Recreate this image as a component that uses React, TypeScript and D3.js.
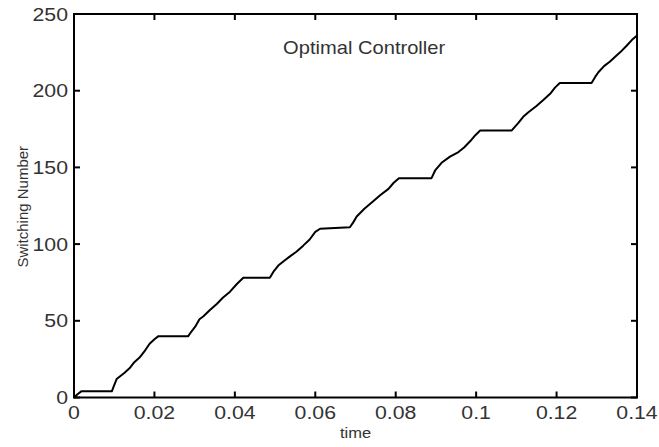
import React from "react";
import * as d3 from "d3";

// Switching count over time for the optimal controller
const times = [
  0, 0.0008, 0.0018, 0.0094, 0.01, 0.0106, 0.0125, 0.0138, 0.015, 0.0163, 0.0175, 0.0188, 0.02, 0.021,
  0.0284, 0.0292, 0.0301, 0.0312, 0.0322, 0.0338, 0.0355, 0.037, 0.0388, 0.0405, 0.0421,
  0.0487, 0.0496, 0.0508, 0.0522, 0.0537, 0.0553, 0.057, 0.0586, 0.06, 0.0612,
  0.0686, 0.0694, 0.0703, 0.0722, 0.0744, 0.0762, 0.0782, 0.0795, 0.0808,
  0.0889, 0.0898, 0.0914, 0.0935, 0.0956, 0.097, 0.0985, 0.0998, 0.101,
  0.1088, 0.1105, 0.1117, 0.113, 0.115, 0.1167, 0.1184, 0.1196, 0.1208,
  0.1287, 0.1296, 0.1304, 0.1318, 0.1333, 0.1345, 0.1358, 0.1373, 0.1387, 0.14,
];
const counts = [
  0, 2, 4, 4, 8, 12, 16, 19, 23, 26, 30, 35, 38, 40,
  40, 43, 46, 51, 53, 57, 61, 65, 69, 74, 78,
  78, 82, 86, 89, 92, 95, 99, 103, 108, 110,
  111, 114, 118, 123, 128, 132, 136, 140, 143,
  143, 148, 153, 157, 160, 163, 167, 171, 174,
  174, 179, 183, 186, 190, 194, 198, 202, 205,
  205, 209, 212, 216, 219, 222, 225, 229, 233, 236,
];
const xTicks = [0, 0.02, 0.04, 0.06, 0.08, 0.1, 0.12, 0.14];
const xTickLabels = ["0", "0.02", "0.04", "0.06", "0.08", "0.1", "0.12", "0.14"];
const yTicks = [0, 50, 100, 150, 200, 250];
const yTickLabels = ["0", "50", "100", "150", "200", "250"];
const title = "Optimal Controller";
const xLabel = "time";
const yLabel = "Switching Number";

const W = 659;
const H = 447;
const left = 74;
const right = 637;
const top = 14;
const bottom = 397.5;
const font = "'Liberation Sans', Arial, Helvetica, sans-serif";
const textColor = "#333";
const stretch = 1.15;

function Stretched({ x, y, anchor, size, children }: { x: number; y: number; anchor: string; size: number; children: string }) {
  return (
    <g transform={`translate(${x},${y}) scale(${stretch},1)`}>
      <text x={0} y={0} textAnchor={anchor} fontSize={size} fontFamily={font} fill={textColor}>
        {children}
      </text>
    </g>
  );
}

export default function App() {
  const x = d3.scaleLinear().domain([0, 0.14]).range([left, right]);
  const y = d3.scaleLinear().domain([0, 250]).range([bottom, top]);
  const pts = times.map((t, i) => [t, counts[i]] as [number, number]);
  const line = d3
    .line<[number, number]>()
    .x((d) => x(d[0]))
    .y((d) => y(d[1]));
  const tickLen = 6;

  return (
    <svg width={W} height={H} style={{ position: "absolute", left: 0, top: 0, background: "#fff" }}>
      <rect x={0} y={0} width={W} height={H} fill="#fff" />
      <path d={line(pts) ?? ""} fill="none" stroke="#000" strokeWidth={2} strokeLinejoin="round" />
      {/* frame */}
      <rect x={left} y={top} width={right - left} height={bottom - top} fill="none" stroke="#000" strokeWidth={2} />
      {xTicks.map((t, i) => (
        <g key={"x" + i}>
          <line x1={x(t)} x2={x(t)} y1={bottom} y2={bottom - tickLen} stroke="#000" strokeWidth={2} />
          <line x1={x(t)} x2={x(t)} y1={top} y2={top + tickLen} stroke="#000" strokeWidth={2} />
          <Stretched x={x(t)} y={419} anchor="middle" size={18.5}>
            {xTickLabels[i]}
          </Stretched>
        </g>
      ))}
      {yTicks.map((v, i) => (
        <g key={"y" + i}>
          <line x1={left} x2={left + tickLen} y1={y(v)} y2={y(v)} stroke="#000" strokeWidth={2} />
          <line x1={right} x2={right - tickLen} y1={y(v)} y2={y(v)} stroke="#000" strokeWidth={2} />
          <Stretched x={68} y={y(v) + 6.5} anchor="end" size={18.5}>
            {yTickLabels[i]}
          </Stretched>
        </g>
      ))}
      <Stretched x={x(0.052)} y={y(224)} anchor="start" size={17.5}>
        {title}
      </Stretched>
      <g transform={`translate(${(left + right) / 2},438) scale(1.1,1)`}>
        <text textAnchor="middle" fontSize={15} fontFamily={font} fill={textColor}>
          {xLabel}
        </text>
      </g>
      <text
        transform={`translate(28,${(top + bottom) / 2 + 1}) rotate(-90)`}
        textAnchor="middle"
        fontSize={15}
        fontFamily={font}
        fill={textColor}
      >
        {yLabel}
      </text>
    </svg>
  );
}
